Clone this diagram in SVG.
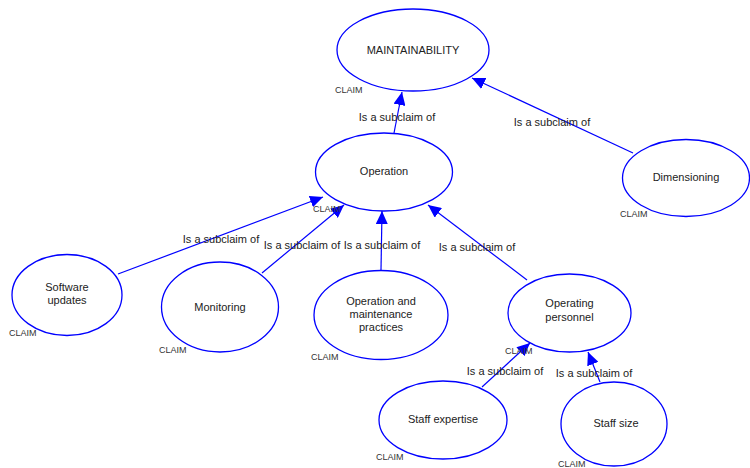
<svg xmlns="http://www.w3.org/2000/svg" width="750" height="468" viewBox="0 0 750 468">
<style>
.node ellipse{fill:#fff;stroke:#0000ff;stroke-width:1.3}
.t{font-family:"Liberation Sans",Arial,sans-serif;font-size:11px;fill:#222;text-anchor:middle}
.c{font-family:"Liberation Sans",Arial,sans-serif;font-size:9px;fill:#333}
.edge line{stroke:#0000ff;stroke-width:1.2}
.lbl{font-family:"Liberation Sans",Arial,sans-serif;font-size:11px;fill:#222;text-anchor:middle}
</style>
<defs>
<marker id="arr" markerUnits="userSpaceOnUse" markerWidth="14" markerHeight="12" viewBox="0 0 14 12" refX="13" refY="6" orient="auto">
<path d="M0,0 L13,6 L0,12 z" fill="#0000ff"/>
</marker>
</defs>
<rect width="750" height="468" fill="#fff"/>
<g id="connectors" class="edge">
<line x1="394" y1="133" x2="402" y2="92" marker-end="url(#arr)"/>
<line x1="633" y1="153" x2="472" y2="78" marker-end="url(#arr)"/>
<line x1="118" y1="274" x2="323" y2="197" marker-end="url(#arr)"/>
<line x1="262" y1="273" x2="344" y2="205" marker-end="url(#arr)"/>
<line x1="381" y1="270" x2="382" y2="211" marker-end="url(#arr)"/>
<line x1="527" y1="280" x2="428" y2="205" marker-end="url(#arr)"/>
<line x1="482" y1="387" x2="530" y2="343" marker-end="url(#arr)"/>
<line x1="600" y1="382" x2="588" y2="352" marker-end="url(#arr)"/>
<text class="lbl" x="397" y="121">Is a subclaim of</text>
<text class="lbl" x="552" y="126">Is a subclaim of</text>
<text class="lbl" x="221" y="243">Is a subclaim of</text>
<text class="lbl" x="302" y="249">Is a subclaim of</text>
<text class="lbl" x="382" y="249">Is a subclaim of</text>
<text class="lbl" x="477" y="251">Is a subclaim of</text>
<text class="lbl" x="505" y="375">Is a subclaim of</text>
<text class="lbl" x="594" y="377">Is a subclaim of</text>
</g>
<g id="maintainability" class="node">
<ellipse cx="413" cy="50" rx="76" ry="41"/>
<text class="t" x="413" y="54">MAINTAINABILITY</text>
<text class="c" x="335" y="93">CLAIM</text>
</g>
<g id="operation" class="node">
<ellipse cx="384" cy="172" rx="68.5" ry="39"/>
<text class="t" x="384" y="175">Operation</text>
<text class="c" x="313" y="212">CLAIM</text>
</g>
<g id="dimensioning" class="node">
<ellipse cx="686" cy="178" rx="63.5" ry="38.5"/>
<text class="t" x="686" y="181">Dimensioning</text>
<text class="c" x="620" y="217">CLAIM</text>
</g>
<g id="software-updates" class="node">
<ellipse cx="67" cy="295" rx="55" ry="40.5"/>
<text class="t" x="67" y="291">Software</text>
<text class="t" x="67" y="304">updates</text>
<text class="c" x="9" y="336">CLAIM</text>
</g>
<g id="monitoring" class="node">
<ellipse cx="220" cy="307" rx="58.5" ry="45"/>
<text class="t" x="220" y="311">Monitoring</text>
<text class="c" x="159" y="353">CLAIM</text>
</g>
<g id="om-practices" class="node">
<ellipse cx="381" cy="315" rx="67" ry="44.5"/>
<text class="t" x="381" y="305">Operation and</text>
<text class="t" x="381" y="318">maintenance</text>
<text class="t" x="381" y="331">practices</text>
<text class="c" x="311" y="360">CLAIM</text>
</g>
<g id="operating-personnel" class="node">
<ellipse cx="569.5" cy="313" rx="61.5" ry="39"/>
<text class="t" x="569.5" y="307">Operating</text>
<text class="t" x="569.5" y="321">personnel</text>
<text class="c" x="505" y="354">CLAIM</text>
</g>
<g id="staff-expertise" class="node">
<ellipse cx="443" cy="420" rx="64" ry="39"/>
<text class="t" x="443" y="423">Staff expertise</text>
<text class="c" x="376" y="460">CLAIM</text>
</g>
<g id="staff-size" class="node">
<ellipse cx="614" cy="424" rx="53" ry="42"/>
<text class="t" x="616" y="427">Staff size</text>
<text class="c" x="558" y="467">CLAIM</text>
</g>
</svg>
